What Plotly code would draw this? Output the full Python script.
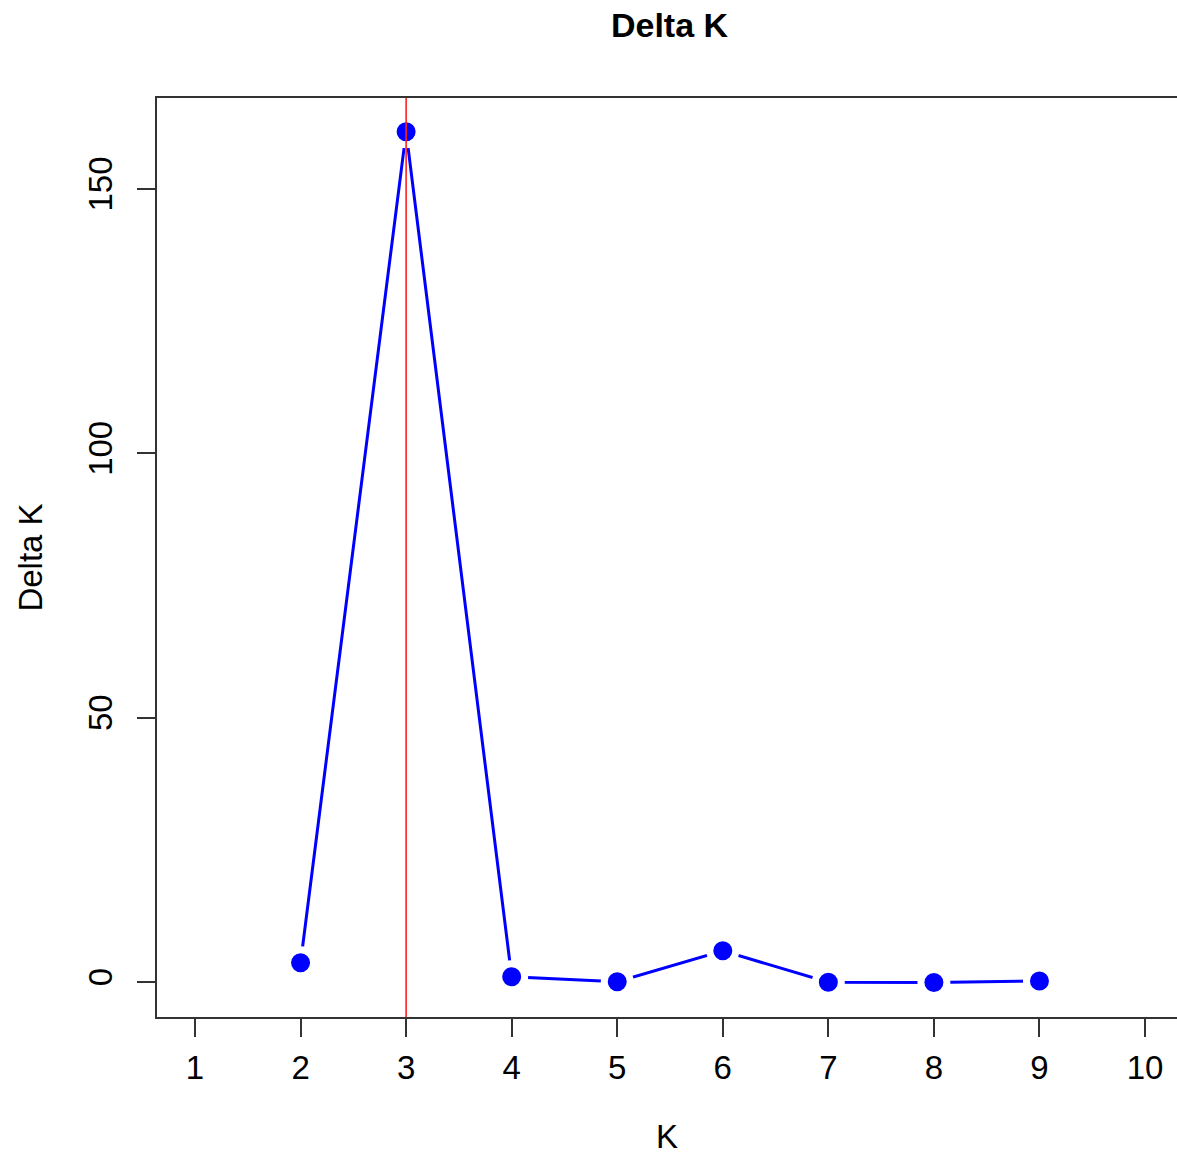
import plotly.graph_objects as go

K = [2, 3, 4, 5, 6, 7, 8, 9]
delta_k = [3.65, 160.8, 1.0, 0.06, 5.9, -0.05, -0.1, 0.2]
best_k = 3
x_ticks = [1, 2, 3, 4, 5, 6, 7, 8, 9, 10]
y_ticks = [0, 50, 100, 150]

FONT = "Liberation Sans, Arial, Helvetica, sans-serif"

W, H = 1177, 1158

fig = go.Figure()
fig.add_trace(go.Scatter(
    x=K, y=delta_k, mode="lines+markers",
    line=dict(color="#0000FF", width=3),
    marker=dict(color="#0000FF", size=26, line=dict(color="white", width=7)),
    showlegend=False, cliponaxis=False,
))
fig.add_shape(type="line", xref="x", yref="paper", x0=best_k, x1=best_k, y0=0, y1=1,
              line=dict(color="#FF2020", width=1.6), layer="above")

fig.update_layout(
    width=W, height=H,
    margin=dict(l=157, r=0, t=98, b=141),
    paper_bgcolor="white", plot_bgcolor="white",
    font=dict(family=FONT, color="black", size=33),
    title=dict(text="<b>Delta K</b>", x=669.5 / W, xref="container", xanchor="center",
               y=1 - 25 / H, yref="container", yanchor="middle",
               font=dict(size=34, family=FONT, color="black")),
    xaxis=dict(range=[0.64, 10.303], tickvals=x_ticks, ticktext=[str(v) for v in x_ticks],
               showgrid=False, zeroline=False, showline=True, mirror=True,
               linecolor="#333333", linewidth=2, ticks="outside", ticklen=18,
               tickwidth=2, tickcolor="#333333", tickfont=dict(size=33),
               ticklabelstandoff=2,
               title=dict(text="K", font=dict(size=33), standoff=40)),
    yaxis=dict(range=[-6.62, 167.2], tickvals=y_ticks, ticktext=[str(v) for v in y_ticks],
               showgrid=False, zeroline=False, showline=True, mirror=False,
               linecolor="#333333", linewidth=2, ticks="outside", ticklen=18,
               tickwidth=2, tickcolor="#333333", tickfont=dict(size=33),
               tickangle=-90, ticklabelstandoff=12,
               title=dict(text="Delta K", font=dict(size=33), standoff=29)),
)

fig.write_html(
    "out.html",
    config={"displayModeBar": False},
    post_script="document.body.style.margin='0';document.documentElement.style.overflow='hidden';",
)
